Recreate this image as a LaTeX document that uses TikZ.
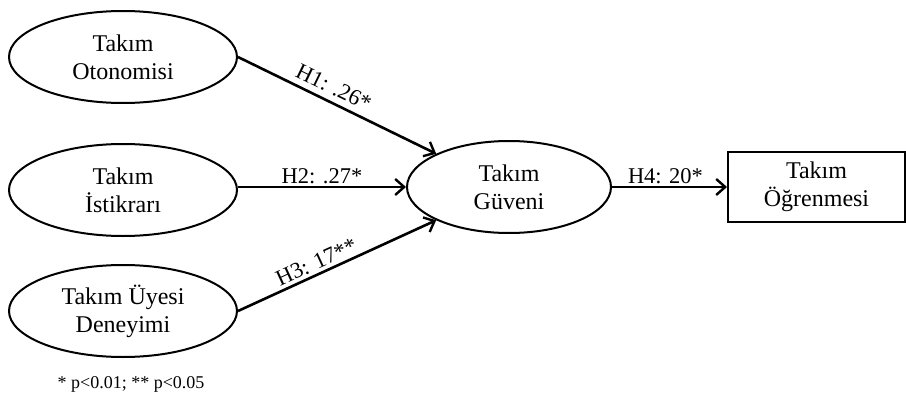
\documentclass[tikz,border=0pt]{standalone}
\usepackage{fontspec}
\setmainfont{Liberation Serif}
\usetikzlibrary{shapes.geometric,arrows.meta}
\begin{document}
\begin{tikzpicture}[x=1pt,y=-1pt,
  latent/.style={ellipse,draw,line width=2pt,minimum width=228pt,minimum height=92pt,
    inner sep=0pt,align=center,font=\fontsize{24}{28}\selectfont},
  observed/.style={rectangle,draw,line width=2pt,minimum width=177pt,minimum height=70pt,
    inner sep=0pt,align=center,font=\fontsize{24}{28}\selectfont},
  path/.style={line width=2.6pt,-{Straight Barb[length=9pt,width=16pt,line width=2.4pt]}},
  coef/.style={font=\fontsize{22.5}{24}\selectfont,inner sep=2pt}]
\useasboundingbox (0,0) rectangle (906,399);
\node[latent] (oto) at (123,57) {Takım\\Otonomisi};
\node[latent] (ist) at (123,190) {Takım\\İstikrarı};
\node[latent] (uye) at (123,311) {Takım Üyesi\\Deneyimi};
\node[latent,minimum width=204pt] (guv) at (509,187) {Takım\\Güveni};
\node[observed] (ogr) at (816.5,187) {Takım\\Öğrenmesi};
\draw[path] (oto.east) -- (guv.north west)
  node[coef,sloped,above,pos=0.45,yshift=4pt] {H1: .26*};
\draw[path] (ist.east |- guv.west) -- (guv.west)
  node[coef,above,midway] {H2: .27*};
\draw[path] (uye.east) -- (guv.south west)
  node[coef,sloped,above,pos=0.42,yshift=1pt] {H3: 17**};
\draw[path] (guv.east) -- (ogr.west)
  node[coef,above,midway,xshift=-4pt] {H4: 20*};
\node[font=\fontsize{18}{20}\selectfont] (note) at (131,384) {* p<0.01; ** p<0.05};
\end{tikzpicture}
\end{document}
